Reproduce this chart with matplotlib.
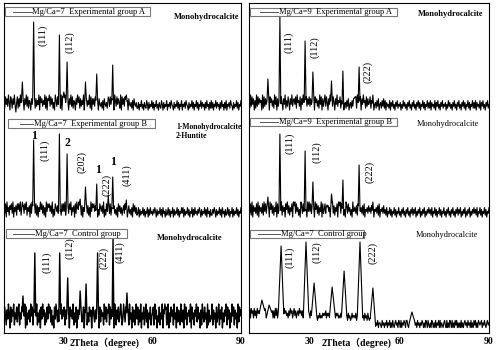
import numpy as np
import matplotlib
matplotlib.use("Agg")
import matplotlib.pyplot as plt
from matplotlib.patches import Rectangle

plt.rcParams['font.family'] = ['Liberation Serif', 'Noto Sans CJK SC', 'DejaVu Sans']

# ---- data: peaks (2theta, height above floor) and baseline noise levels (0.25 deg steps) ----
# left column, Mg/Ca=7
lA_pos = [16.2, 20.0, 28.7, 30.2, 31.3, 37.5, 41.3, 45.2, 46.7, 51.3]
lA_hgt = [30, 90, 77, 20, 50, 30, 38, 15, 47, 17]
lA_noise = ("6284739518627493058273958261749382651749" "5827364918573649281769384725196384752918"
            "7395826174938265174958273649185736492817" "4738526174352617435269384725196384752918"
            "4738526174352617435225143624153264152436" "2514362415326415243614352643152436251436"
            "1435264315243625143625143625341526341526" "2514362534152634152614352643152436251436")

lB_pos = [16.2, 20.0, 28.7, 31.3, 35.7, 37.5, 41.3, 45.2, 46.7, 51.3]
lB_hgt = [17, 79, 85, 65, 20, 32, 35, 24, 42, 19]
lB_noise = ("7381946275839164728584926173859264718396" "5938271649583726194868473915286473915284"
            "8492617385926471839659382716495837261948" "6847391528647391528457382614735261847362"
            "5738261473526184736236152436251436152634" "2536415243625163415236251436152436251436"
            "3615243625143615263425364152436251634152" "2536415243625163415236251436152436251436")

lC_pos = [16.4, 20.4, 28.8, 31.5, 35.7, 37.7, 41.6, 46.8, 51.5, 64.3]
lC_hgt = [35, 78, 78, 53, 40, 47, 78, 92, 38, 27]
lC_noise = ("3852749618375926483792648375918264739582" "7485926371849572638496837251849637285947"
            "5827493618574926381747296358174926385716" "8537492618375629483769284735196274835962"
            "4963815729461837259482739164825937164825" "6829471538264917358249163857294618375294"
            "3719482657391846275938461729538461927354" "9274618359274816375928471639582746193857")

# right column, Mg/Ca=9 (A, B) and Mg/Ca=7 control
rA_pos = [16.3, 20.3, 28.7, 31.3, 37.5, 41.3, 45.3, 46.7, 51.3]
rA_hgt = [33, 95, 71, 40, 31, 41, 15, 45, 17]
rA_noise = ("5293847162938475619283746291857362948173" "6938517492638517493674829563817495628374"
            "8374629185736294817369385174926385174936" "5826371452637145263774829563817495628374"
            "5826371452637145263726153426153624153624" "3514263524153624153624153625143625143625"
            "2615342615362415362435142635241536241536" "2415362514362514362526153426153624153624")

rB_pos = [16.3, 20.3, 28.7, 31.3, 36.0, 37.5, 41.3, 45.3, 46.7, 51.3]
rB_hgt = [22, 85, 68, 37, 14, 25, 39, 12, 54, 17]
rB_noise = ("6382917463829174638294837261958372649183" "5839274618593726481979384625197384625194"
            "9483726195837264918358392746185937264819" "7938462519738462519446372815463728154637"
            "4637281546372815463735261436251436251436" "2415362415362415362536142536142536142536"
            "3526143625143625143624153624153624153625" "3614253614253614253635261436251436251436")

rC_pos = [14.3, 16.7, 20.7, 29.0, 31.7, 37.7, 41.7, 47.0, 51.3, 64.3]
rC_hgt = [30, 25, 84, 88, 47, 43, 59, 88, 42, 18]
rC_noise = ("6959785968597869589769857598697858596958" "8697586978675869785796857869786857968758"
            "7586757657646575657676857675867576857675" "6575646575647564575665746574657564756475"
            "4534214313241332142313241324131421342314" "3141324314421314313142314231324313143142"
            "1314313141324141321342141314314131424131" "3141313423142314131424131432341324213423")


def trace(ax, noise, floor, scale, pos, hgt, w, lw=0.8):
    x = np.linspace(10, 90, len(noise))
    y = floor + scale * np.array([int(c) for c in noise], dtype=float)
    keep = np.ones(len(x), bool)
    for p in pos:
        keep &= np.abs(x - p) > w
    xs, ys = list(x[keep]), list(y[keep])
    for p, h in zip(pos, hgt):
        xs += [p - w, p, p + w]
        ys += [np.interp(p - w, x, y), floor + h, np.interp(p + w, x, y)]
    o = np.argsort(xs)
    ax.plot(np.array(xs)[o], np.array(ys)[o], color='black', lw=lw)


def legend_box(ax, x0, x1, y0, y1, lx0, lx1, tx, label):
    ax.add_patch(Rectangle((x0, y0), x1 - x0, y1 - y0, fc='white', ec='#777777', lw=0.8, zorder=3))
    ym = (y0 + y1) / 2
    ax.plot([lx0, lx1], [ym, ym], color='#555555', lw=0.7, zorder=4)
    ax.text(tx, ym, label, fontsize=6.1, va='center', ha='left', zorder=4)


def miller(ax, x, y, s, size=7.3):
    ax.text(x, y, s, rotation=90, fontsize=size, ha='center', va='center')


fig = plt.figure(figsize=(4.96, 3.5), dpi=100)
axL = fig.add_axes([4 / 496, 17 / 350, 237 / 496, 330 / 350])
axR = fig.add_axes([249 / 496, 17 / 350, 240 / 496, 330 / 350])

for ax in (axL, axR):
    ax.set_xlim(10, 90)
    ax.set_ylim(0, 330)
    ax.set_yticks([])
    ax.set_xticks([30, 60, 90])
    ax.set_xticklabels(['30', '60', '90'], fontsize=7, fontweight='bold')
    ax.tick_params(axis='x', length=0, pad=3)
    for s in ax.spines.values():
        s.set_linewidth(0.8)

# left column
trace(axL, lA_noise, 221, 1.9, lA_pos, lA_hgt, 0.3)
trace(axL, lB_noise, 114, 1.9, lB_pos, lB_hgt, 0.3)
trace(axL, lC_noise, 2, 3.0, lC_pos, lC_hgt, 0.3, lw=1.0)

legend_box(axL, 10.3, 59.3, 317, 326, 13.0, 19.4, 19.6, 'Mg/Ca=7  Experimental group A')
legend_box(axL, 11.3, 61.0, 205, 214, 15.4, 19.9, 20.1, 'Mg/Ca=7  Experimental group B')
legend_box(axL, 10.7, 51.5, 95, 104, 13.0, 20.1, 20.3, 'Mg/Ca=7  Control group')

axL.text(89.4, 316, 'Monohydrocalcite', fontsize=6.0, fontweight='bold', ha='right', va='center')
axL.text(68.1, 206, '1-Monohydrocalcite', fontsize=5.5, fontweight='bold', ha='left', va='center')
axL.text(68.1, 197, '2-Huntite', fontsize=5.5, fontweight='bold', ha='left', va='center')
axL.text(72.8, 95, 'Monohydrocalcite', fontsize=6.0, fontweight='bold', ha='center', va='center')

miller(axL, 23.2, 298, '(111)')
miller(axL, 32.3, 291, '(112)')
miller(axL, 23.8, 183, '(111)')
miller(axL, 36.3, 171, '(202)')
miller(axL, 44.8, 148, '(222)')
miller(axL, 51.5, 158, '(411)')
for x, y, s in [(20.1, 197, '1'), (31.3, 190, '2'), (41.7, 163, '1'), (46.8, 171, '1')]:
    axL.text(x, y, s, fontsize=8.5, fontweight='bold', ha='center', va='center')
miller(axL, 24.5, 71, '(111)')
miller(axL, 32.3, 85, '(112)')
miller(axL, 43.8, 75, '(222)')
miller(axL, 49.2, 81, '(411)')

# right column
trace(axR, rA_noise, 221, 1.9, rA_pos, rA_hgt, 0.3)
trace(axR, rB_noise, 114, 1.9, rB_pos, rB_hgt, 0.3)
trace(axR, rC_noise, 3, 2.4, rC_pos, rC_hgt, 0.9)

legend_box(axR, 10.3, 59.3, 317, 325, 13.7, 19.7, 19.9, 'Mg/Ca=9  Experimental group A')
legend_box(axR, 10.3, 59.3, 207, 215, 13.7, 19.7, 19.9, 'Mg/Ca=9  Experimental group B')
legend_box(axR, 10.3, 48.3, 95, 103, 13.0, 20.3, 20.5, 'Mg/Ca=7  Control group')

axR.text(77.3, 319, 'Monohydrocalcite', fontsize=6.0, fontweight='bold', ha='center', va='center')
axR.text(76.3, 209, 'Monohydrocalcite', fontsize=6.0, ha='center', va='center')
axR.text(76.0, 98, 'Monohydrocalcite', fontsize=6.0, ha='center', va='center')

miller(axR, 23.3, 291, '(111)')
miller(axR, 32.0, 286, '(112)')
miller(axR, 49.7, 261, '(222)')
miller(axR, 23.7, 190, '(111)')
miller(axR, 32.7, 181, '(112)')
miller(axR, 50.3, 161, '(222)')
miller(axR, 23.7, 76, '(111)')
miller(axR, 32.7, 81, '(112)')
miller(axR, 51.3, 80, '(222)')

for ax, xc in ((axL, 43.8), (axR, 45.7)):
    ax.text(xc, -10, '2Theta（degree)', fontsize=7, fontweight='bold',
            ha='center', va='center')

fig.savefig('out.png', dpi=100)
